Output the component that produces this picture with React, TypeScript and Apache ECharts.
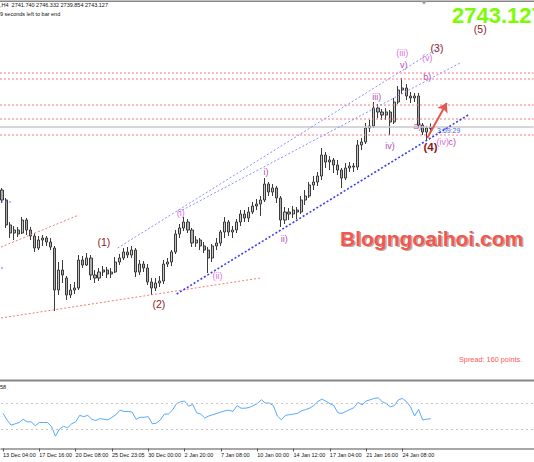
import React, { useEffect, useRef } from "react";
import * as echarts from "echarts";

// [open, close, low, high] per H4 bar
const ohlc: number[][] = [
  [2686.4, 2677.4, 2674.7, 2688.2], [2677.4, 2654.9, 2652.2, 2679.2], [2654.9, 2647.7, 2643.2, 2657.6],
  [2647.7, 2650.4, 2641.4, 2654.0], [2650.4, 2646.8, 2644.1, 2653.1], [2647.7, 2659.4, 2646.8, 2662.1],
  [2659.4, 2650.4, 2645.9, 2661.2], [2650.4, 2645.0, 2641.4, 2653.1], [2645.0, 2634.2, 2630.6, 2647.7],
  [2634.2, 2641.4, 2632.4, 2645.0], [2641.4, 2643.2, 2636.0, 2645.9], [2643.2, 2639.6, 2636.0, 2645.0],
  [2639.6, 2635.1, 2632.4, 2643.2], [2634.2, 2596.4, 2577.5, 2636.0], [2596.4, 2614.4, 2591.9, 2621.6],
  [2614.4, 2609.9, 2602.7, 2623.4], [2607.2, 2591.9, 2587.4, 2609.0], [2591.9, 2596.4, 2589.2, 2601.8],
  [2596.4, 2598.2, 2592.8, 2603.6], [2598.2, 2623.4, 2596.4, 2627.9], [2623.4, 2618.9, 2616.2, 2627.0],
  [2618.9, 2625.2, 2618.0, 2629.7], [2625.2, 2609.9, 2605.4, 2627.9], [2609.9, 2607.2, 2602.7, 2614.4],
  [2607.2, 2612.6, 2604.5, 2616.2], [2612.6, 2614.4, 2609.0, 2618.0], [2614.4, 2610.8, 2607.2, 2617.1],
  [2610.8, 2612.6, 2607.2, 2616.2], [2612.6, 2621.6, 2611.7, 2626.1], [2621.6, 2625.2, 2618.9, 2628.8],
  [2625.2, 2630.6, 2623.4, 2634.2], [2630.6, 2627.9, 2625.2, 2635.1], [2627.9, 2632.4, 2625.2, 2636.0],
  [2632.4, 2612.6, 2608.1, 2634.2], [2612.6, 2619.8, 2609.9, 2623.4], [2619.8, 2616.2, 2612.6, 2622.5],
  [2616.2, 2603.6, 2600.9, 2619.8], [2603.6, 2598.2, 2591.9, 2607.2], [2598.2, 2602.7, 2595.5, 2607.2],
  [2602.7, 2604.5, 2599.1, 2609.0], [2604.5, 2619.8, 2601.8, 2623.4], [2619.8, 2621.6, 2617.1, 2625.2],
  [2621.6, 2630.6, 2618.0, 2632.4], [2630.6, 2646.8, 2628.8, 2650.4], [2646.8, 2652.2, 2643.2, 2655.8],
  [2652.2, 2657.6, 2649.5, 2662.1], [2657.6, 2650.4, 2647.7, 2660.3], [2650.4, 2638.7, 2635.1, 2652.2],
  [2638.7, 2641.4, 2635.1, 2645.0], [2641.4, 2636.0, 2632.4, 2643.2], [2636.0, 2632.4, 2629.7, 2639.6],
  [2632.4, 2625.2, 2611.7, 2635.1], [2625.2, 2636.0, 2621.6, 2637.8], [2636.0, 2638.7, 2632.4, 2643.2],
  [2638.7, 2648.6, 2636.0, 2650.4], [2648.6, 2657.6, 2643.2, 2662.1], [2657.6, 2648.6, 2645.0, 2659.4],
  [2648.6, 2650.4, 2643.2, 2654.0], [2650.4, 2657.6, 2647.7, 2660.3], [2657.6, 2664.8, 2654.0, 2668.4],
  [2664.8, 2661.2, 2657.6, 2668.4], [2661.2, 2666.6, 2657.6, 2671.1], [2666.6, 2672.0, 2664.8, 2675.6],
  [2672.0, 2673.8, 2668.4, 2678.3], [2673.8, 2677.4, 2663.0, 2681.0], [2677.4, 2691.8, 2675.6, 2697.2],
  [2691.8, 2684.6, 2681.0, 2693.6], [2684.6, 2688.2, 2681.0, 2691.8], [2688.2, 2679.2, 2674.7, 2690.0],
  [2679.2, 2659.4, 2653.1, 2681.0], [2659.4, 2666.6, 2655.8, 2671.1], [2666.6, 2664.8, 2659.4, 2670.2],
  [2664.8, 2668.4, 2661.2, 2672.0], [2668.4, 2666.6, 2660.3, 2671.1], [2666.6, 2677.4, 2664.8, 2681.0],
  [2677.4, 2681.0, 2672.9, 2686.4], [2681.0, 2690.9, 2679.2, 2693.6], [2690.9, 2693.6, 2686.4, 2699.0],
  [2693.6, 2699.0, 2690.0, 2702.6], [2699.0, 2717.9, 2695.4, 2724.2], [2717.9, 2711.6, 2706.2, 2720.6],
  [2711.6, 2713.4, 2704.4, 2717.0], [2713.4, 2708.9, 2701.7, 2715.2], [2708.9, 2704.4, 2699.9, 2713.4],
  [2704.4, 2697.2, 2688.2, 2706.2], [2697.2, 2706.2, 2695.4, 2710.7], [2706.2, 2708.0, 2702.6, 2711.6],
  [2708.0, 2707.1, 2702.6, 2710.7], [2707.1, 2726.9, 2704.4, 2731.4], [2726.9, 2729.6, 2722.4, 2733.2],
  [2729.6, 2742.2, 2727.8, 2746.7], [2742.2, 2744.0, 2738.6, 2749.4], [2744.0, 2760.2, 2742.2, 2765.6],
  [2760.2, 2756.6, 2751.2, 2763.8], [2756.6, 2753.9, 2749.4, 2759.3], [2753.9, 2756.6, 2749.4, 2760.2],
  [2756.6, 2747.6, 2735.9, 2758.4], [2747.6, 2765.6, 2745.8, 2769.2], [2765.6, 2776.4, 2763.8, 2780.0],
  [2776.4, 2778.2, 2772.8, 2787.2], [2778.2, 2771.0, 2767.4, 2781.8], [2771.0, 2769.2, 2764.7, 2774.6],
  [2769.2, 2771.0, 2765.6, 2773.7], [2771.0, 2744.9, 2742.2, 2773.7], [2744.9, 2738.6, 2735.9, 2746.7],
  [2738.6, 2742.2, 2731.4, 2744.0], [2741.74, 2743.127, 2739.854, 2746.332],
];

const rsi: number[] = [
  54, 44, 36, 38, 40, 45, 41, 41, 35, 40,
  40, 40, 34, 19, 30, 34, 32, 38, 41, 51,
  49, 51, 45, 43, 46, 45, 44, 48, 52, 59,
  57, 57, 56, 45, 48, 48, 49, 38, 39, 44,
  53, 53, 59, 69, 72, 73, 65, 68, 55, 53,
  47, 50, 52, 54, 56, 58, 59, 57, 66, 62,
  62, 63, 66, 69, 75, 70, 70, 66, 50, 44,
  51, 52, 53, 54, 58, 60, 62, 66, 72, 76,
  73, 69, 66, 55, 54, 57, 60, 63, 71, 67,
  73, 75, 77, 78, 72, 69, 64, 66, 75, 77,
  72, 64, 50, 60, 44, 45, 46,
];

const tickIdx = [0, 9, 18, 27, 36, 45, 54, 63, 72, 81, 90, 99];
const tickLabels = [
  "13 Dec 04:00", "17 Dec 16:00", "20 Dec 08:00", "25 Dec 23:05", "30 Dec 00:00", "2 Jan 20:00",
  "7 Jan 08:00", "10 Jan 00:00", "14 Jan 12:00", "17 Jan 04:00", "21 Jan 16:00", "24 Jan 08:00",
];

const slotCount = 132;
const redLevels = [2791.7, 2786.3, 2762.9, 2750.3, 2735.9];
const bidPrice = 2743.127;
const rsiLevels = [70, 30];

// trend lines: [barIndex, price]
const redSupport = [[-0.25, 2571.2], [63.9, 2607.2]];
const redUpper = [[-0.25, 2635.1], [19.0, 2663.9]];
const blueLower = [[43.2, 2592.8], [115.3, 2753.9]];
const blueUpper1 = [[28.6, 2634.2], [109.1, 2816.9]];
const blueUpper2 = [[43.7, 2666.6], [113.3, 2800.7]];
const blueStub1 = [[-0.25, 2675.6], [2.2, 2675.6]];
const blueStub2 = [[-0.25, 2616.2], [0.8, 2616.2]];
const arrowFrom = [105.2, 2733.2];
const arrowTo = [110.0, 2764.7];

const primaryLabels = [
  { name: "(1)", value: [25.2, 2639.6] },
  { name: "(2)", value: [38.8, 2583.8] },
  { name: "(3)", value: [107.6, 2814.2] },
  { name: "(5)", value: [118.3, 2830.9] },
];
const primaryBold = [{ name: "(4)", value: [106.0, 2725.1] }];
const minorLabels = [
  { name: "(i)", value: [44.2, 2665.7] },
  { name: "(ii)", value: [53.3, 2609.4] },
  { name: "(iii)", value: [99.0, 2809.3] },
  { name: "(v)", value: [105.2, 2805.6] },
  { name: "(iv)", value: [109.0, 2730.0] },
];
const minuteLabels = [
  { name: "i)", value: [65.3, 2703.0] },
  { name: "ii)", value: [69.8, 2642.7] },
  { name: "iii)", value: [92.7, 2770.5] },
  { name: "iv)", value: [96.0, 2726.0] },
  { name: "v)", value: [99.4, 2798.9] },
  { name: "b)", value: [105.2, 2788.5] },
  { name: "a)", value: [102.8, 2744.4] },
  { name: "c)", value: [111.4, 2730.0] },
];
const timerLabel = [{ name: "3:59:29", value: [110.5, 2740.4] }];

const FONT = "Liberation Sans, Arial, sans-serif";

function trend(data: number[][], color: string, width: number, dash: number[] | string) {
  return {
    type: "line", xAxisIndex: 1, yAxisIndex: 0, data, showSymbol: false, silent: true,
    lineStyle: { color, width, type: dash },
  };
}

function labels(items: { name: string; value: number[] }[], color: string, size: number, weight = "normal") {
  return {
    type: "custom", xAxisIndex: 1, yAxisIndex: 0, silent: true, clip: false,
    data: items.map((d) => d.value),
    renderItem: (params: any, api: any) => {
      const p = api.coord([api.value(0), api.value(1)]);
      return {
        type: "text", x: p[0], y: p[1],
        style: {
          text: items[params.dataIndex].name, fill: color,
          font: `${weight} ${size}px ${FONT}`, align: "center", verticalAlign: "middle",
        },
      };
    },
  };
}

export default function App() {
  const ref = useRef<HTMLDivElement>(null);
  useEffect(() => {
    const chart = echarts.init(ref.current!, null, { renderer: "svg" });
    const categories = Array.from({ length: slotCount }, (_, i) => String(i));
    const labelMap: Record<number, string> = {};
    tickIdx.forEach((t, k) => (labelMap[t] = tickLabels[k]));
    const showTick = (idx: number) => labelMap[idx] !== undefined;
    const span = (v: number) => [[-0.5, v], [slotCount - 0.5, v]];

    const option: any = {
      animation: false,
      backgroundColor: "#ffffff",
      grid: [
        { left: -1, top: 4, width: 534.6, height: 374 },
        { left: -1, top: 383.5, width: 534.6, height: 65 },
      ],
      xAxis: [
        { type: "category", gridIndex: 0, data: categories, boundaryGap: true, show: false },
        { type: "value", gridIndex: 0, min: -0.5, max: slotCount - 0.5, show: false },
        {
          type: "category", gridIndex: 1, data: categories, boundaryGap: true,
          axisLine: { show: true, lineStyle: { color: "#8a8a8a", width: 1.5 } },
          axisTick: { show: true, alignWithLabel: true, interval: showTick, length: 3, lineStyle: { color: "#555" } },
          axisLabel: {
            show: true, interval: showTick, formatter: (_v: string, idx: number) => labelMap[idx] || "",
            fontSize: 5.5, color: "#111", fontFamily: FONT, align: "left", margin: 3,
          },
          splitLine: { show: false },
        },
      ],
      yAxis: [
        { type: "value", gridIndex: 0, min: 2517.2, max: 2853.8, show: false },
        { type: "value", gridIndex: 1, min: 0, max: 100, show: false },
      ],
      series: [
        trend(span(bidPrice), "#c8c8c8", 1.5, "solid"),
        ...redLevels.map((v) => trend(span(v), "#f07a7a", 1, [2, 2])),
        {
          type: "candlestick", xAxisIndex: 0, yAxisIndex: 0, data: ohlc, barWidth: 2.6, silent: true,
          itemStyle: { color: "#c8c8c8", color0: "#ababab", borderColor: "#3a3a3a", borderColor0: "#3a3a3a", borderWidth: 1 },
        },
        trend(redSupport, "#f07a7a", 1, [2, 2]),
        trend(redUpper, "#f07a7a", 1, [2, 2]),
        trend(blueLower, "#3c3cf5", 1.6, [2, 2]),
        trend(blueUpper1, "#8c8cff", 1, [2, 2]),
        trend(blueUpper2, "#8c8cff", 1, [2, 2]),
        trend(blueStub1, "#6c6cff", 1, [2, 2]),
        trend(blueStub2, "#6c6cff", 1, [2, 2]),
        {
          type: "line", xAxisIndex: 1, yAxisIndex: 0, data: [arrowFrom, arrowTo], showSymbol: false, silent: true,
          lineStyle: { opacity: 0 },
          markLine: {
            silent: true, symbol: ["none", "arrow"], symbolSize: 9, label: { show: false },
            lineStyle: { color: "#e8554e", width: 2, type: "solid" },
            itemStyle: { color: "#e8554e" },
            data: [[{ coord: arrowFrom }, { coord: arrowTo }]],
          },
        },
        labels(primaryLabels, "#8c1c1c", 10.5),
        labels(primaryBold, "#8c1c1c", 11.5, "bold"),
        labels(minorLabels, "#e070e0", 9),
        labels(minuteLabels, "#b050b0", 9),
        labels(timerLabel, "#4a68e8", 7),
        {
          type: "line", xAxisIndex: 2, yAxisIndex: 1, data: rsi, showSymbol: false, silent: true,
          lineStyle: { color: "#55aaff", width: 1 },
          markLine: {
            silent: true, symbol: "none", label: { show: false },
            lineStyle: { color: "#c4c4c4", type: [2, 3], width: 1 },
            data: rsiLevels.map((v) => ({ yAxis: v })),
          },
        },
      ],
      graphic: [
        { type: "rect", shape: { x: 0, y: 0.5, width: 534, height: 1.6 }, style: { fill: "#868686" }, silent: true },
        { type: "polygon", shape: { points: [[421, 1], [427, 1], [424, 4.5]] }, style: { fill: "#9a9a9a" }, silent: true },
        { type: "rect", shape: { x: 0, y: 379.6, width: 534, height: 2 }, style: { fill: "#868686" }, silent: true },
        {
          type: "text", x: 0, y: 5, silent: true,
          style: { text: ",H4  2741.740 2746.332 2739.854 2743.127", fill: "#111", font: `5.5px ${FONT}`, verticalAlign: "middle" },
        },
        {
          type: "text", x: 0, y: 14, silent: true,
          style: { text: "9 seconds left to bar end", fill: "#111", font: `5.5px ${FONT}`, verticalAlign: "middle" },
        },
        {
          type: "text", x: 0, y: 386.5, silent: true,
          style: { text: "58", fill: "#111", font: `5.5px ${FONT}`, verticalAlign: "middle" },
        },
        {
          type: "text", x: 452, y: 15, silent: true,
          style: { text: "2743.127", fill: "#7cfc00", font: `bold 22px ${FONT}`, verticalAlign: "middle", lineHeight: 16 },
        },
        {
          type: "text", x: 341.5, y: 239.5, silent: true,
          style: { text: "Blogngoaihoi.com", fill: "rgba(90,60,60,0.45)", font: `bold 21px ${FONT}`, verticalAlign: "middle" },
        },
        {
          type: "text", x: 340, y: 238, silent: true,
          style: { text: "Blogngoaihoi.com", fill: "#f4584c", font: `bold 21px ${FONT}`, verticalAlign: "middle" },
        },
        {
          type: "text", x: 459, y: 359, silent: true,
          style: { text: "Spread: 160 points.", fill: "#ff5a5a", font: `7.3px ${FONT}`, verticalAlign: "middle" },
        },
      ],
    };
    chart.setOption(option);
    return () => chart.dispose();
  }, []);
  return (
    <div
      ref={ref}
      style={{ position: "fixed", left: 0, top: 0, width: 534, height: 462, background: "#fff" }}
    />
  );
}
